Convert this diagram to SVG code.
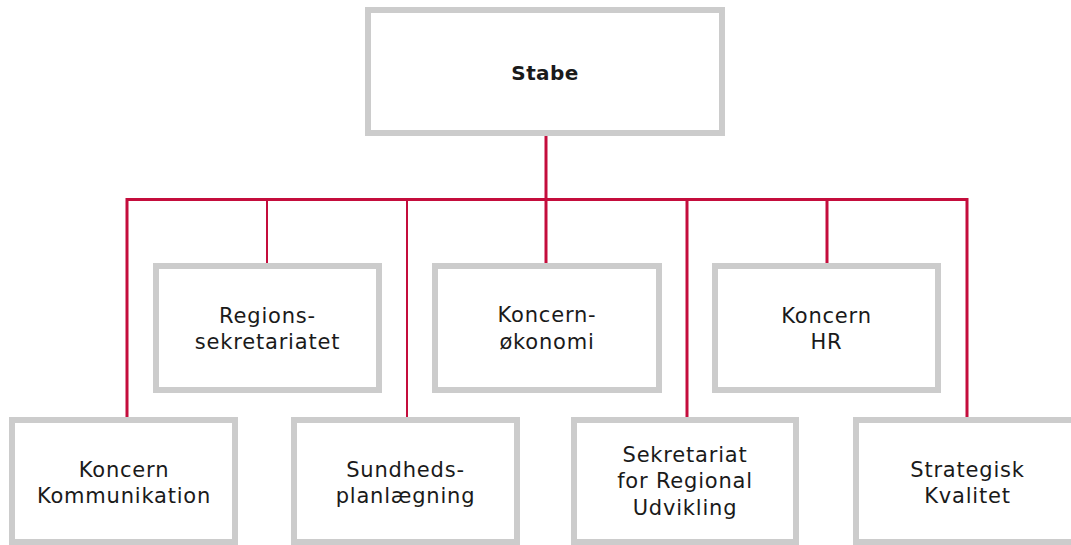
<svg xmlns="http://www.w3.org/2000/svg" width="1071" height="545" viewBox="0 0 1071 545">
<style>
.box{fill:#ffffff;stroke:#cccccc;stroke-width:6}
.t{font-family:"DejaVu Sans",sans-serif;font-size:21px;letter-spacing:0.8px;fill:#1a1a1a;text-anchor:middle}
.b{font-weight:bold;font-size:20px;letter-spacing:0.4px}
.c{stroke:#c40d3c;fill:none;stroke-width:3}
.thin{stroke-width:2}
</style>
<rect width="1071" height="545" fill="#ffffff"/>
<g id="connectors">
<line class="c" x1="546" y1="136" x2="546" y2="200"/>
<polyline class="c" points="127,420 127,199.5 967,199.5 967,420"/>
<line class="c thin" x1="267" y1="199.5" x2="267" y2="266"/>
<line class="c thin" x1="407" y1="199.5" x2="407" y2="420"/>
<line class="c" x1="546" y1="199.5" x2="546" y2="266"/>
<line class="c" x1="687" y1="199.5" x2="687" y2="420"/>
<line class="c" x1="827" y1="199.5" x2="827" y2="266"/>
</g>
<g id="stabe">
<rect class="box" x="368" y="10" width="354" height="123"/>
<text class="t b" x="545" y="80">Stabe</text>
</g>
<g id="regionssekretariatet">
<rect class="box" x="156" y="266" width="223" height="124"/>
<text class="t" x="267.5" y="323">Regions-</text>
<text class="t" x="267.5" y="349">sekretariatet</text>
</g>
<g id="koncernokonomi">
<rect class="box" x="435" y="266" width="224" height="124"/>
<text class="t" x="547" y="322">Koncern-</text>
<text class="t" x="547" y="349">økonomi</text>
</g>
<g id="koncernhr">
<rect class="box" x="715" y="266" width="223" height="124"/>
<text class="t" x="826.5" y="323">Koncern</text>
<text class="t" x="826.5" y="349">HR</text>
</g>
<g id="koncernkommunikation">
<rect class="box" x="12" y="420" width="223" height="122"/>
<text class="t" x="124" y="477">Koncern</text>
<text class="t" x="124" y="503">Kommunikation</text>
</g>
<g id="sundhedsplanlaegning">
<rect class="box" x="294" y="420" width="223" height="122"/>
<text class="t" x="405.5" y="477">Sundheds-</text>
<text class="t" x="405.5" y="503">planlægning</text>
</g>
<g id="sekretariat">
<rect class="box" x="574" y="420" width="222" height="122"/>
<text class="t" x="685" y="462">Sekretariat</text>
<text class="t" x="685" y="488">for Regional</text>
<text class="t" x="685" y="515">Udvikling</text>
</g>
<g id="strategiskkvalitet">
<rect class="box" x="856" y="420" width="223" height="122"/>
<text class="t" x="967.5" y="477">Strategisk</text>
<text class="t" x="967.5" y="503">Kvalitet</text>
</g>
</svg>
